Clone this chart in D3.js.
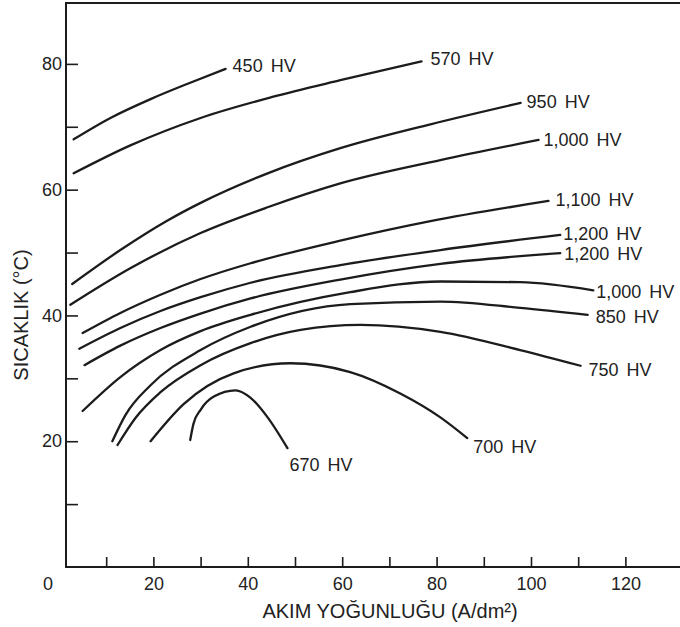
<!DOCTYPE html>
<html>
<head>
<meta charset="utf-8">
<script src="https://cdn.jsdelivr.net/npm/d3@7"></script>
<style>
  body { margin: 0; background: #fff; }
  svg { display: block; font-family: "Liberation Sans", Arial, sans-serif; }
</style>
</head>
<body>
<div id="chart"></div>
<script>
// hardness curves: [current density A/dm², temperature °C]
const curveLabels = ["450 HV", "570 HV", "950 HV", "1,000 HV", "1,100 HV", "1,200 HV",
  "1,200 HV", "1,000 HV", "850 HV", "750 HV", "700 HV", "670 HV"]

const hv450 = [[3.1, 68.0], [10.9, 71.4], [19.4, 74.4], [27.8, 77.0], [35.3, 79.2]]
const hv570 = [[3.1, 62.6], [15, 67.0], [30, 71.4], [45, 74.7], [59.6, 77.4], [76.8, 80.4]]
const hv950 = [[2.8, 45.0], [13, 50.4], [23, 55.1], [30, 57.9], [44.2, 62.6], [59.6, 66.6], [78.7, 70.4], [97.8, 73.8]]
const hv1000a = [[2.4, 41.7], [15.1, 47.5], [30, 53.1], [44.2, 57.2], [59.6, 61.0], [80.8, 64.7], [101.6, 67.9]]
const hv1100 = [[5, 37.2], [13, 40.4], [21.5, 43.3], [30, 45.8], [40.6, 48.3], [59.6, 51.9], [78.7, 55.0], [103.7, 58.2]]
const hv1200a = [[4.3, 34.7], [13, 38.0], [21.5, 40.7], [30, 42.9], [40.6, 45.2], [59.6, 48.0], [80.8, 50.4], [106.2, 52.8]]
const hv1200b = [[5.4, 32.1], [13, 35.2], [21.5, 38.0], [30, 40.3], [40.6, 42.7], [59.6, 45.7], [80.8, 48.2], [106.2, 49.9]]
const hv1000b = [[5, 24.8], [13, 30.2], [21.5, 34.5], [30, 37.5], [40.6, 40.1], [61.7, 43.7], [80.8, 45.4], [97.7, 45.3], [113.2, 44.0]]
const hv850 = [[11.3, 20.0], [14.1, 24.2], [19.4, 28.9], [30, 34.5], [40.6, 38.2], [61.7, 41.8], [80.8, 42.2], [97.7, 41.2], [112, 40.1]]
const hv750 = [[12.4, 19.4], [16.2, 23.7], [21.5, 27.8], [30, 32.1], [40.6, 35.6], [51.2, 37.7], [63.9, 38.5], [80.8, 37.4], [97.7, 34.5], [110.5, 32.0]]
const hv700 = [[19.4, 20.0], [26.4, 25.9], [37, 30.8], [49, 32.4], [61.7, 31.0], [72.3, 27.6], [80.8, 23.8], [86.5, 20.5]]
const hv670 = [[27.8, 20.2], [28.5, 22.8], [30, 25.0], [32.8, 27.1], [37.4, 28.1], [40.6, 26.9], [44.2, 23.8], [48.4, 18.9]]

const series = [hv450, hv570, hv950, hv1000a, hv1100, hv1200a, hv1200b, hv1000b, hv850, hv750, hv700, hv670]

const xTicks = [10, 20, 30, 40, 50, 60, 70, 80, 90, 100, 110, 120]
const yTicks = [10, 20, 30, 40, 50, 60, 70, 80]

const width = 680
const height = 627
const ink = "#1c1c1c"

const svg = d3.select("#chart").append("svg")
  .attr("width", width)
  .attr("height", height)

const x = d3.scaleLinear().domain([0, 130]).range([59, 672.6])
const y = d3.scaleLinear().domain([0, 90]).range([567, 1])

const spineX = 66
const topY = 3

// frame: left spine, top line, bottom axis line
svg.append("path")
  .attr("d", `M${width},${topY}H${spineX}V${y(0)}H${width}`)
  .attr("fill", "none")
  .attr("stroke", ink)
  .attr("stroke-width", 2)

// x axis, ticks pointing up
const xAxis = svg.append("g")
  .attr("transform", `translate(0,${y(0)})`)
  .call(d3.axisBottom(x)
    .tickValues(xTicks)
    .tickSizeInner(-10)
    .tickSizeOuter(0)
    .tickPadding(10)
    .tickFormat(d => d % 20 === 0 ? d : ""))
xAxis.select(".domain").remove()

// y axis, ticks pointing right
const yAxis = svg.append("g")
  .attr("transform", `translate(${spineX},0)`)
  .call(d3.axisLeft(y)
    .tickValues(yTicks)
    .tickSizeInner(-12)
    .tickSizeOuter(0)
    .tickPadding(4)
    .tickFormat(d => d % 20 === 0 ? d : ""))
yAxis.select(".domain").remove()

svg.selectAll(".tick line").attr("stroke", ink).attr("stroke-width", 1.6)
svg.selectAll(".tick text")
  .attr("fill", "#222")
  .style("font-size", "18px")
  .style("font-family", "'Liberation Sans', Arial, sans-serif")

// origin label
svg.append("text")
  .attr("x", spineX - 13)
  .attr("y", y(0) + 10)
  .attr("dy", "0.71em")
  .attr("text-anchor", "end")
  .attr("fill", "#222")
  .style("font-size", "18px")
  .text("0")

// curves
const line = d3.line()
  .x(d => x(d[0]))
  .y(d => y(d[1]))
  .curve(d3.curveMonotoneX)

svg.append("g")
  .selectAll("path")
  .data(series)
  .join("path")
  .attr("d", line)
  .attr("fill", "none")
  .attr("stroke", ink)
  .attr("stroke-width", 2.3)
  .attr("stroke-linecap", "round")

// label nudges from each curve end [dx, dy]
const nudge = [[7, -3], [9, -2], [6, -1], [5, 0], [7, -1], [3, -1], [4, 1], [3, 2], [8, 2], [8, 4], [6, 9], [2, 17]]

svg.append("g")
  .selectAll("text")
  .data(series)
  .join("text")
  .attr("x", (d, i) => x(d[d.length - 1][0]) + nudge[i][0])
  .attr("y", (d, i) => y(d[d.length - 1][1]) + nudge[i][1])
  .attr("dominant-baseline", "central")
  .attr("fill", "#222")
  .style("font-size", "18px")
  .style("word-spacing", "3px")
  .text((d, i) => curveLabels[i])

// axis titles
svg.append("text")
  .attr("transform", `translate(28,315) rotate(-90)`)
  .attr("text-anchor", "middle")
  .attr("fill", "#222")
  .style("font-size", "20px")
  .text("SICAKLIK (°C)")

svg.append("text")
  .attr("x", 390)
  .attr("y", 618)
  .attr("text-anchor", "middle")
  .attr("fill", "#222")
  .style("font-size", "20px")
  .text("AKIM YOĞUNLUĞU (A/dm²)")
</script>
</body>
</html>
